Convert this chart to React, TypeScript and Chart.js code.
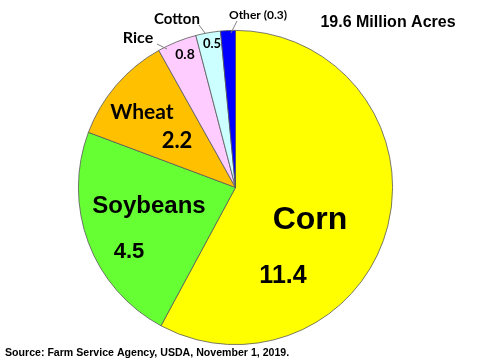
import React, { useEffect, useRef } from "react";
import { Chart, registerables } from "chart.js";

Chart.register(...registerables);

const categories = ["Corn", "Soybeans", "Wheat", "Rice", "Cotton", "Other"];
const acres = [11.4, 4.5, 2.2, 0.8, 0.5, 0.3];
const valueLabels = ["11.4", "4.5", "2.2", "0.8", "0.5", "(0.3)"];
const colors = ["#FFFF00", "#66FF33", "#FFC000", "#FFCCFF", "#CCFFFF", "#0000FF"];
const totalLabel = "19.6 Million Acres";
const sourceLabel = "Source: Farm Service Agency, USDA, November 1, 2019.";

const ARIAL = "'Liberation Sans', Arial, sans-serif";
const CAL = "Lato, 'Open Sans', sans-serif";

const labelsPlugin = {
  id: "customLabels",
  afterDraw(chart: any) {
    const ctx = chart.ctx;
    ctx.save();
    ctx.fillStyle = "#000";
    ctx.textAlign = "center";
    ctx.textBaseline = "middle";
    const txt = (s: string, x: number, y: number, size: number, family: string) => {
      ctx.font = `bold ${size}px ${family}`;
      ctx.fillText(s, x, y);
    };
    // big slices
    txt(categories[0], 310, 220, 32, ARIAL);
    txt(valueLabels[0], 283, 276, 25, ARIAL);
    txt(categories[1], 149, 206, 24, ARIAL);
    txt(valueLabels[1], 129, 252, 22, ARIAL);
    txt(categories[2], 142, 112, 21, CAL);
    txt(valueLabels[2], 177, 141, 22, CAL);
    txt(valueLabels[3], 185, 54, 14, CAL);
    txt(valueLabels[4], 212, 44, 13, CAL);
    // outside labels
    txt(categories[3], 138, 38, 16, CAL);
    txt(categories[4], 177, 19, 15, CAL);
    txt(categories[5] + " " + valueLabels[5], 258, 15, 12, CAL);
    txt(totalLabel, 388, 23, 16, ARIAL);
    // leader lines
    ctx.strokeStyle = "#808080";
    ctx.lineWidth = 1;
    ctx.beginPath();
    ctx.moveTo(157, 44); ctx.lineTo(167, 49);
    ctx.moveTo(199, 25); ctx.lineTo(205, 33);
    ctx.moveTo(237, 21); ctx.lineTo(231, 33);
    ctx.stroke();
    // source
    ctx.textAlign = "left";
    ctx.font = `bold 10.6px ${ARIAL}`;
    ctx.fillText(sourceLabel, 5, 353);
    ctx.restore();
  },
};

export default function App() {
  const ref = useRef<HTMLCanvasElement>(null);
  useEffect(() => {
    document.body.style.margin = "0";
    const chart = new Chart(ref.current!, {
      type: "pie",
      data: {
        labels: categories,
        datasets: [
          {
            data: acres,
            backgroundColor: colors,
            borderColor: "#595959",
            borderWidth: 0.8,
          },
        ],
      },
      options: {
        responsive: false,
        animation: false,
        events: [],
        layout: { padding: { top: 30, bottom: 15, left: 78, right: 87 } },
        plugins: {
          legend: { display: false },
          tooltip: { enabled: false },
        },
      },
      plugins: [labelsPlugin],
    });
    return () => chart.destroy();
  }, []);
  return (
    <div style={{ width: 480, height: 360, background: "#fff" }}>
      <canvas ref={ref} width={480} height={360} style={{ display: "block" }} />
    </div>
  );
}
